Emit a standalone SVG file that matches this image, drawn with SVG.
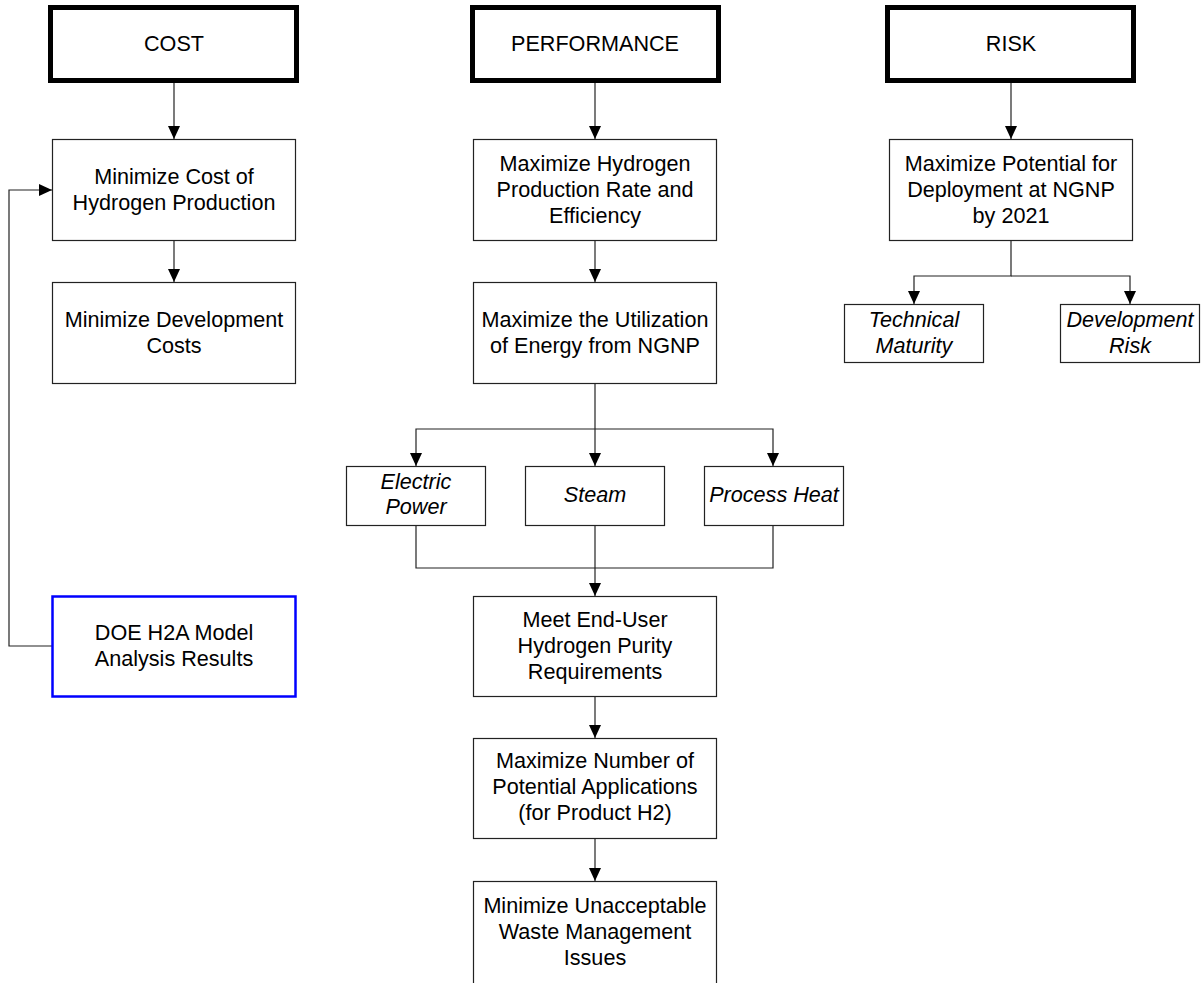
<svg xmlns="http://www.w3.org/2000/svg" width="1204" height="983" viewBox="0 0 1204 983">
<style>
.b{fill:#fff;stroke:#222;stroke-width:1.2}
.h{fill:#fff;stroke:#000;stroke-width:5}
.blue{fill:#fff;stroke:#0000ff;stroke-width:2.5}
text{font-family:"Liberation Sans",Arial,sans-serif;font-size:21.6px;fill:#000;text-anchor:middle}
.i{font-style:italic}
.c{fill:none;stroke:#222;stroke-width:1.2}
</style>
<defs>
<marker id="a" markerUnits="userSpaceOnUse" markerWidth="13" markerHeight="13" refX="13" refY="6.5" orient="auto" viewBox="0 0 13 13">
<path d="M0,0.5 L13,6.5 L0,12.5 Z" fill="#000"/>
</marker>
</defs>
<rect width="1204" height="983" fill="#fff"/>
<g id="connectors">
<path class="c" d="M174,83 V139" marker-end="url(#a)"/>
<path class="c" d="M595,83 V139" marker-end="url(#a)"/>
<path class="c" d="M1011,83 V139" marker-end="url(#a)"/>
<path class="c" d="M174,241 V282" marker-end="url(#a)"/>
<path class="c" d="M595,241 V282" marker-end="url(#a)"/>
<path class="c" d="M52,646 H9 V190 H52" marker-end="url(#a)"/>
<path class="c" d="M1011,241 V276 H914 V304" marker-end="url(#a)"/>
<path class="c" d="M1011,276 H1130 V304" marker-end="url(#a)"/>
<path class="c" d="M595,384 V466" marker-end="url(#a)"/>
<path class="c" d="M595,429 H416 V466" marker-end="url(#a)"/>
<path class="c" d="M595,429 H773 V466" marker-end="url(#a)"/>
<path class="c" d="M416,525 V568 H773 V525"/>
<path class="c" d="M595,525 V596" marker-end="url(#a)"/>
<path class="c" d="M595,697 V738" marker-end="url(#a)"/>
<path class="c" d="M595,838 V881" marker-end="url(#a)"/>
</g>
<g id="cost"><rect class="h" x="50.5" y="7.5" width="246" height="73"/><text x="174" y="51">COST</text></g>
<g id="performance"><rect class="h" x="472.5" y="7.5" width="246" height="73"/><text x="595" y="51">PERFORMANCE</text></g>
<g id="risk"><rect class="h" x="887.5" y="7.5" width="246" height="73"/><text x="1011" y="51">RISK</text></g>
<g id="min-cost"><rect class="b" x="52.5" y="139.5" width="243" height="101"/><text x="174" y="184">Minimize Cost of</text><text x="174" y="210">Hydrogen Production</text></g>
<g id="min-dev"><rect class="b" x="52.5" y="282.5" width="243" height="101"/><text x="174" y="327">Minimize Development</text><text x="174" y="353">Costs</text></g>
<g id="doe"><rect class="blue" x="52.5" y="596.5" width="243" height="100"/><text x="174" y="640">DOE H2A Model</text><text x="174" y="666">Analysis Results</text></g>
<g id="max-h2"><rect class="b" x="473.5" y="139.5" width="243" height="101"/><text x="595" y="171">Maximize Hydrogen</text><text x="595" y="197">Production Rate and</text><text x="595" y="223">Efficiency</text></g>
<g id="max-util"><rect class="b" x="473.5" y="282.5" width="243" height="101"/><text x="595" y="327">Maximize the Utilization</text><text x="595" y="353">of Energy from NGNP</text></g>
<g id="electric"><rect class="b" x="346.5" y="466.5" width="139" height="59"/><text class="i" x="416" y="489">Electric</text><text class="i" x="416" y="514">Power</text></g>
<g id="steam"><rect class="b" x="525.5" y="466.5" width="139" height="59"/><text class="i" x="595" y="502">Steam</text></g>
<g id="heat"><rect class="b" x="704.5" y="466.5" width="139" height="59"/><text class="i" x="774" y="502">Process Heat</text></g>
<g id="purity"><rect class="b" x="473.5" y="596.5" width="243" height="100"/><text x="595" y="627">Meet End-User</text><text x="595" y="653">Hydrogen Purity</text><text x="595" y="679">Requirements</text></g>
<g id="apps"><rect class="b" x="473.5" y="738.5" width="243" height="100"/><text x="595" y="768">Maximize Number of</text><text x="595" y="794">Potential Applications</text><text x="595" y="820">(for Product H2)</text></g>
<g id="waste"><rect class="b" x="473.5" y="881.5" width="243" height="110"/><text x="595" y="913">Minimize Unacceptable</text><text x="595" y="939">Waste Management</text><text x="595" y="965">Issues</text></g>
<g id="deploy"><rect class="b" x="889.5" y="139.5" width="243" height="101"/><text x="1011" y="171">Maximize Potential for</text><text x="1011" y="197">Deployment at NGNP</text><text x="1011" y="223">by 2021</text></g>
<g id="tech"><rect class="b" x="844.5" y="304.5" width="139" height="58"/><text class="i" x="914" y="327">Technical</text><text class="i" x="914" y="353">Maturity</text></g>
<g id="devrisk"><rect class="b" x="1060.5" y="304.5" width="139" height="58"/><text class="i" x="1130" y="327">Development</text><text class="i" x="1130" y="353">Risk</text></g>
</svg>
